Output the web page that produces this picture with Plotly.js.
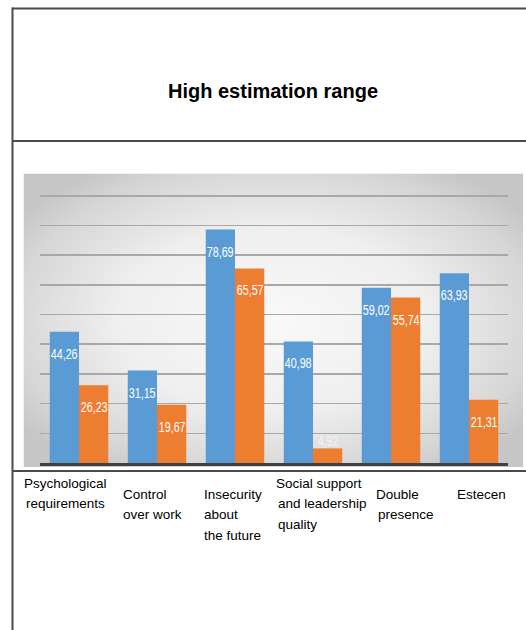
<!DOCTYPE html>
<html>
<head>
<meta charset="utf-8">
<script src="https://cdn.plot.ly/plotly-3.0.1.min.js"></script>
<style>
  html, body { margin: 0; padding: 0; background: #ffffff; }
  #chart { width: 526px; height: 630px; }
</style>
</head>
<body>
<div id="chart"></div>
<script>
// ---- data ----
var titleText = 'High estimation range';
var categories = [
  'Psychological<br>requirements',
  'Control<br>over work',
  'Insecurity<br>about<br>the future',
  'Social support<br>and leadership<br>quality',
  'Double<br>presence',
  'Estecen'
];
var seriesA = [44.26, 31.15, 78.69, 40.98, 59.02, 63.93];
var seriesB = [26.23, 19.67, 65.57, 4.92, 55.74, 21.31];

// ---- layout geometry (pixels) ----
var W = 526, H = 630;
var ML = 40, MR = 18, MT = 190, MB = 167;
var plotW = W - ML - MR, plotH = H - MT - MB;
function px2x(px) { return (px - ML) / plotW; }
function px2y(py) { return (H - MB - py) / plotH; }

var blue = '#5B9BD5', orange = '#ED7D31';
var labelFont = 'Liberation Sans, Arial, sans-serif';
var textFont = 'Liberation Sans, Arial, sans-serif';

function fmt(v) { return v.toFixed(2).replace('.', ','); }

var traces = [
  { type: 'bar', x: categories, y: seriesA, marker: { color: blue }, hoverinfo: 'none' },
  { type: 'bar', x: categories, y: seriesB, marker: { color: orange }, hoverinfo: 'none' }
];

var annotations = [];
var halfBar = plotW / categories.length * (1 - 0.25) / 4;
[seriesA, seriesB].forEach(function (s, si) {
  s.forEach(function (v, i) {
    var small = v < 8;
    annotations.push({
      xref: 'x', yref: 'y', x: categories[i], y: v,
      xshift: (si === 0 ? -1 : 1) * halfBar,
      yshift: small ? 7 : -22,
      text: fmt(v), showarrow: false, xanchor: 'center', yanchor: 'middle',
      font: { family: labelFont, size: 14.5, color: small ? '#f4f4f4' : '#ffffff' }
    });
  });
});

// category labels in table cells
var labelLeft = [22, 121, 202, 274, 374, 455];
var labelTop = [483, 494, 494, 483, 494, 494];
categories.forEach(function (c, i) {
  c.split('<br>').forEach(function (line, li) {
    annotations.push({
      xref: 'paper', yref: 'paper',
      x: px2x(labelLeft[i] + (li > 0 && i !== 1 && i !== 2 ? 2 : 0)),
      y: px2y(labelTop[i] + li * 20.5),
      text: line, showarrow: false, xanchor: 'left', yanchor: 'middle',
      font: { family: textFont, size: 13.5, color: '#000000' }
    });
  });
});

var lineStyle = { color: '#4a4a4a', width: 2 };
var shapes = [
  { type: 'line', xref: 'paper', yref: 'paper', x0: px2x(12), x1: px2x(530), y0: px2y(8.5), y1: px2y(8.5), line: lineStyle },
  { type: 'line', xref: 'paper', yref: 'paper', x0: px2x(12), x1: px2x(530), y0: px2y(141), y1: px2y(141), line: lineStyle },
  { type: 'line', xref: 'paper', yref: 'paper', x0: px2x(12), x1: px2x(530), y0: px2y(471), y1: px2y(471), line: lineStyle },
  { type: 'line', xref: 'paper', yref: 'paper', x0: px2x(12.5), x1: px2x(12.5), y0: px2y(7.5), y1: px2y(632), line: lineStyle }
];

var svg = '<svg xmlns="http://www.w3.org/2000/svg" width="500" height="294" preserveAspectRatio="none">' +
  '<defs><radialGradient id="g" cx="0.5" cy="0.5" r="0.62">' +
  '<stop offset="0" stop-color="#f9f9f9"/><stop offset="0.5" stop-color="#efefef"/>' +
  '<stop offset="0.85" stop-color="#d6d6d6"/><stop offset="1" stop-color="#c6c6c6"/></radialGradient></defs>' +
  '<rect width="500" height="294" fill="url(#g)"/></svg>';
var bgSrc = 'data:image/svg+xml;charset=utf-8,' + encodeURIComponent(svg);

var layout = {
  width: W, height: H,
  margin: { l: ML, r: MR, t: MT, b: MB, pad: 0 },
  paper_bgcolor: '#ffffff',
  plot_bgcolor: 'rgba(0,0,0,0)',
  showlegend: false,
  barmode: 'group', bargap: 0.25, bargroupgap: 0,
  title: {
    text: '<b>' + titleText + '</b>',
    x: 273 / W, xref: 'container', xanchor: 'center',
    y: 1 - 91 / H, yref: 'container', yanchor: 'middle',
    font: { family: textFont, size: 20, color: '#000000' }
  },
  xaxis: {
    type: 'category', showticklabels: false, ticks: '', showgrid: false,
    showline: true, linecolor: '#404040', linewidth: 3, zeroline: false, fixedrange: true
  },
  yaxis: {
    range: [0, 92], dtick: 10, tick0: 0, showticklabels: false, ticks: '',
    showgrid: true, gridcolor: '#a8a8a8', gridwidth: 1.6, zeroline: false, showline: false, fixedrange: true
  },
  images: [{
    source: bgSrc, xref: 'paper', yref: 'paper',
    x: px2x(23.5), y: px2y(173.5), sizex: px2x(523) - px2x(23.5), sizey: px2y(173.5) - px2y(467),
    xanchor: 'left', yanchor: 'top', sizing: 'stretch', layer: 'below'
  }],
  annotations: annotations,
  shapes: shapes
};

Plotly.newPlot('chart', traces, layout, { displayModeBar: false, staticPlot: true }).then(function (gd) {
  // condense the value labels (narrow, Calibri-like data labels)
  var texts = gd.querySelectorAll('.annotation-text');
  texts.forEach(function (t) {
    if (/^\d+,\d\d$/.test(t.textContent)) {
      var w = t.getComputedTextLength();
      t.setAttribute('textLength', (w * 0.74).toFixed(1));
      t.setAttribute('lengthAdjust', 'spacingAndGlyphs');
    }
  });
});
</script>
</body>
</html>
